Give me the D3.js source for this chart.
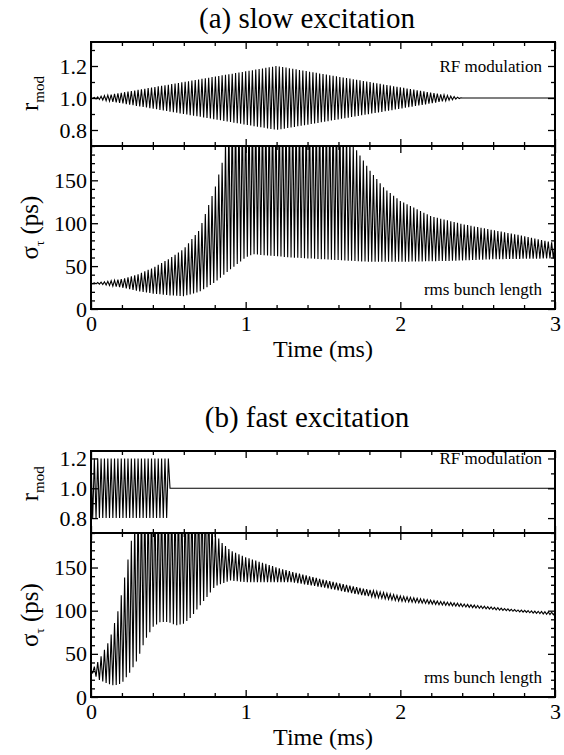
<!DOCTYPE html>
<html>
<head>
<meta charset="utf-8">
<script src="https://d3js.org/d3.v7.min.js"></script>
<style>
  body { margin: 0; background: #fff; }
  text { font-family: "Liberation Serif", "Times New Roman", serif; fill: #000; }
</style>
</head>
<body>
<div id="chart"></div>
<script>
// ---- data ----
var timeTicks = [0, 1, 2, 3];
var rmodTicks = [0.8, 1.0, 1.2];
var sigmaTicks = [0, 50, 100, 150];
var cyclesPerMs = 46;   // oscillations per ms, counted on the plot

// (a) slow excitation: envelopes (time in ms, upper / lower)
var slowRmodT  = [0, 1.2, 2.4, 3];
var slowRmodHi = [1.0, 1.2, 1.0, 1.0];
var slowRmodLo = [1.0, 0.8, 1.0, 1.0];

var slowSigHiT = [0, 0.1, 0.2, 0.3, 0.4, 0.5, 0.6, 0.7, 0.8, 0.85, 0.9, 1.6, 1.7, 1.8, 1.9, 2.0, 2.2, 2.4, 2.6, 2.8, 3.0];
var slowSigHi  = [30, 32, 35, 40, 48, 58, 70, 92, 140, 172, 230, 230, 190, 162, 140, 126, 108, 99, 92, 85, 77];
var slowSigLoT = [0, 0.1, 0.2, 0.3, 0.4, 0.5, 0.6, 0.7, 0.8, 0.9, 1.0, 1.05, 1.1, 1.3, 1.6, 1.8, 2.0, 2.3, 2.6, 3.0];
var slowSigLo  = [30, 28, 25, 21, 18, 16, 15, 20, 31, 46, 60, 64, 63, 60, 57, 55, 55, 56, 58, 59];

// (b) fast excitation
var fastRmodT  = [0, 0.5, 0.505, 3];
var fastRmodHi = [1.2, 1.2, 1.0, 1.0];
var fastRmodLo = [0.8, 0.8, 1.0, 1.0];

var fastSigHiT = [0, 0.05, 0.12, 0.18, 0.24, 0.28, 0.3, 0.75, 0.8, 0.85, 0.9, 1.0, 1.1, 1.2, 1.3, 1.5, 1.75, 2.0, 2.25, 2.5, 2.75, 3.0];
var fastSigHi  = [30, 42, 66, 103, 160, 200, 230, 230, 190, 178, 170, 162, 156, 150, 145, 136, 126, 117, 111, 106, 101, 98];
var fastSigLoT = [0, 0.05, 0.1, 0.15, 0.2, 0.25, 0.3, 0.35, 0.4, 0.45, 0.5, 0.55, 0.6, 0.65, 0.7, 0.75, 0.8, 0.9, 1.0, 1.3, 1.5, 1.75, 2.0, 2.25, 2.5, 2.75, 3.0];
var fastSigLo  = [30, 20, 16, 13, 16, 28, 43, 66, 81, 87, 87, 83, 85, 93, 105, 116, 128, 135, 133, 133, 127, 118, 111, 107, 103, 99, 95];

var figures = [
  { title: "(a) slow excitation", titleY: 28, top: 42, rmodH: 104, rmodDom: [0.7, 1.35], sigH: 163,
    rmod: [slowRmodT, slowRmodHi, slowRmodT, slowRmodLo],
    sig:  [slowSigHiT, slowSigHi, slowSigLoT, slowSigLo] },
  { title: "(b) fast excitation", titleY: 427, top: 451, rmodH: 82, rmodDom: [0.7, 1.25], sigH: 164,
    rmod: [fastRmodT, fastRmodHi, fastRmodT, fastRmodLo],
    sig:  [fastSigHiT, fastSigHi, fastSigLoT, fastSigLo] }
];

// ---- drawing ----
var left = 91, right = 555;

var svg = d3.select("#chart").append("svg")
    .attr("width", 564).attr("height", 755);

var x = d3.scaleLinear().domain([0, 3]).range([left, right]);
var timeMinor = d3.range(0, 3.01, 0.2).filter(function(d) { return Math.abs(d - Math.round(d)) > 0.01; });

// zigzag between the upper and lower envelope, one stroke per half cycle
function zigzag(env) {
  var up = d3.scaleLinear().domain(env[0]).range(env[1]).clamp(true);
  var dn = d3.scaleLinear().domain(env[2]).range(env[3]).clamp(true);
  var n = Math.round(3 * cyclesPerMs * 2);
  var pts = [];
  for (var k = 0; k <= n; k++) {
    var t = k / (2 * cyclesPerMs);
    pts.push([t, k % 2 ? dn(t) : up(t)]);
  }
  return pts;
}

function addTicks(g, y, h, yMajor, yMinor, fmt, showX) {
  // bottom and top
  g.append("g").attr("transform", "translate(0," + h + ")")
    .call(d3.axisBottom(x).tickValues(timeTicks).tickSize(-7).tickPadding(6)
      .tickFormat(showX ? d3.format("d") : ""));
  g.append("g").attr("transform", "translate(0," + h + ")")
    .call(d3.axisBottom(x).tickValues(timeMinor).tickSize(-4).tickFormat(""));
  g.append("g").call(d3.axisTop(x).tickValues(timeTicks).tickSize(-7).tickFormat(""));
  g.append("g").call(d3.axisTop(x).tickValues(timeMinor).tickSize(-4).tickFormat(""));
  // left and right
  g.append("g").attr("transform", "translate(" + left + ",0)")
    .call(d3.axisLeft(y).tickValues(yMajor).tickSize(-7).tickPadding(4).tickFormat(fmt));
  g.append("g").attr("transform", "translate(" + left + ",0)")
    .call(d3.axisLeft(y).tickValues(yMinor).tickSize(-4).tickFormat(""));
  g.append("g").attr("transform", "translate(" + right + ",0)")
    .call(d3.axisRight(y).tickValues(yMajor).tickSize(-7).tickFormat(""));
  g.append("g").attr("transform", "translate(" + right + ",0)")
    .call(d3.axisRight(y).tickValues(yMinor).tickSize(-4).tickFormat(""));
  g.selectAll(".domain").remove();
  g.selectAll(".tick line").attr("stroke", "#000").attr("stroke-width", 1.3);
  g.selectAll(".tick text").style("font-family", "Liberation Serif").style("font-size", "22px");
}

figures.forEach(function(f, fi) {
  var g = svg.append("g");
  var top = f.top, rmodH = f.rmodH, sigH = f.sigH;

  g.append("text").attr("x", 307).attr("y", f.titleY)
    .attr("text-anchor", "middle").style("font-size", "29px").text(f.title);

  // r_mod panel
  var yR = d3.scaleLinear().domain(f.rmodDom).range([top + rmodH, top]);
  var gR = g.append("g");
  gR.append("clipPath").attr("id", "clipR" + fi).append("rect")
    .attr("x", left).attr("y", top).attr("width", right - left).attr("height", rmodH);
  gR.append("path").datum(zigzag(f.rmod))
    .attr("clip-path", "url(#clipR" + fi + ")")
    .attr("fill", "none").attr("stroke", "#000").attr("stroke-width", 1.1)
    .attr("d", d3.line().x(function(d) { return x(d[0]); }).y(function(d) { return yR(d[1]); }));
  var yR0 = d3.scaleLinear().domain(f.rmodDom).range([rmodH, 0]);
  var rMinor = [0.7, 0.9, 1.1, 1.3].filter(function(d) { return d <= f.rmodDom[1]; });
  addTicks(gR.append("g").attr("transform", "translate(0," + top + ")"),
    yR0, rmodH, rmodTicks, rMinor, d3.format(".1f"), false);
  gR.append("rect").attr("x", left).attr("y", top).attr("width", right - left).attr("height", rmodH)
    .attr("fill", "none").attr("stroke", "#000").attr("stroke-width", 2);
  gR.append("text").attr("x", right - 13).attr("y", yR(1.2) + 6)
    .attr("text-anchor", "end").style("font-size", "17px").text("RF modulation");
  var lr = gR.append("text").attr("transform", "translate(38," + (yR(1.0) + 13) + ") rotate(-90)")
    .style("font-size", "25px");
  lr.append("tspan").text("r");
  lr.append("tspan").attr("dy", 6).style("font-size", "15px").text("mod");

  // sigma panel
  var sTop = top + rmodH;
  var yS = d3.scaleLinear().domain([0, 190]).range([sTop + sigH, sTop]);
  var gS = g.append("g");
  gS.append("clipPath").attr("id", "clipS" + fi).append("rect")
    .attr("x", left).attr("y", sTop).attr("width", right - left).attr("height", sigH);
  gS.append("path").datum(zigzag(f.sig))
    .attr("clip-path", "url(#clipS" + fi + ")")
    .attr("fill", "none").attr("stroke", "#000").attr("stroke-width", 1.1)
    .attr("d", d3.line().x(function(d) { return x(d[0]); }).y(function(d) { return yS(d[1]); }));
  var yS0 = d3.scaleLinear().domain([0, 190]).range([sigH, 0]);
  addTicks(gS.append("g").attr("transform", "translate(0," + sTop + ")"),
    yS0, sigH, sigmaTicks, d3.range(10, 190, 10).filter(function(d) { return d % 50; }), d3.format("d"), true);
  gS.append("rect").attr("x", left).attr("y", sTop).attr("width", right - left).attr("height", sigH)
    .attr("fill", "none").attr("stroke", "#000").attr("stroke-width", 2);
  gS.append("text").attr("x", right - 13).attr("y", sTop + sigH - 14)
    .attr("text-anchor", "end").style("font-size", "17px").text("rms bunch length");
  var ls = gS.append("text").attr("transform", "translate(38," + (sTop + sigH / 2) + ") rotate(-90)")
    .attr("text-anchor", "middle").style("font-size", "25px");
  ls.append("tspan").text("σ");
  ls.append("tspan").attr("dy", 6).style("font-size", "13px").text("τ");
  ls.append("tspan").attr("dy", -6).text(" (ps)");

  g.append("text").attr("x", x(1.5)).attr("y", sTop + sigH + 48)
    .attr("text-anchor", "middle").style("font-size", "24px").text("Time (ms)");
});
</script>
</body>
</html>
